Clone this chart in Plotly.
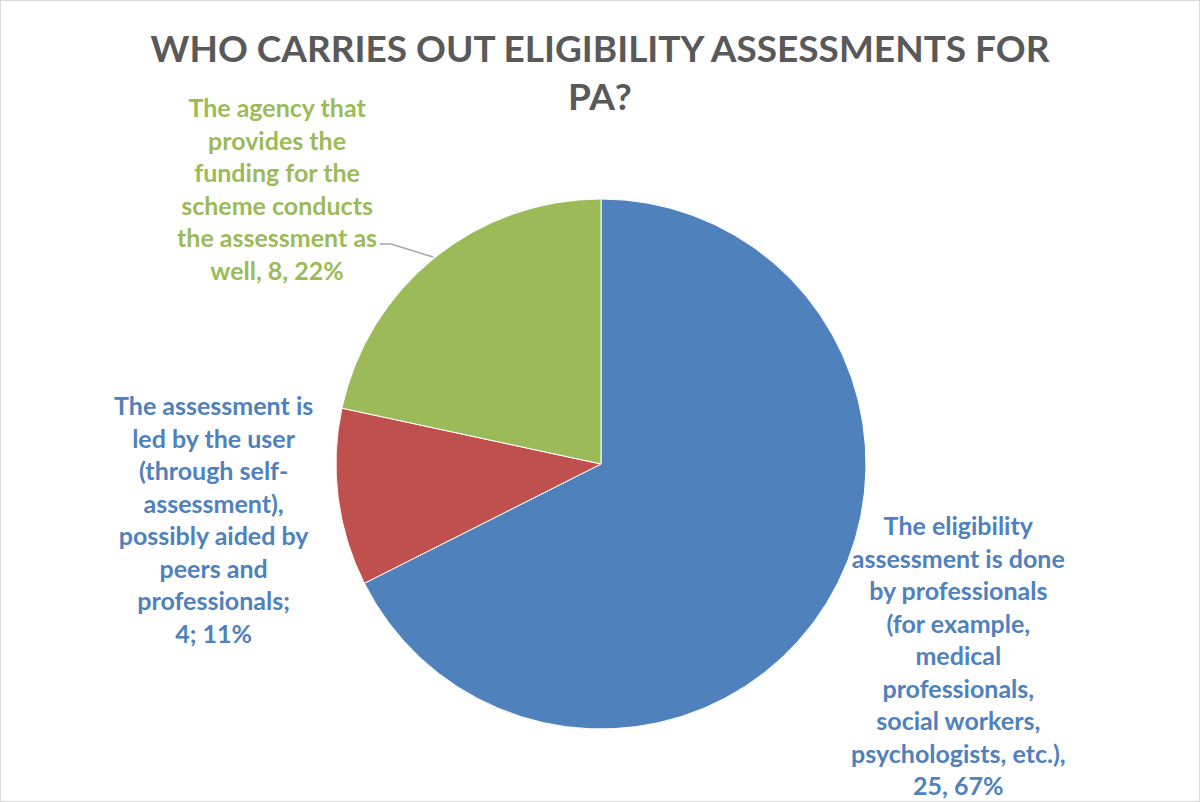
import plotly.graph_objects as go

# data
categories = [
    "The eligibility assessment is done by professionals (for example, medical professionals, social workers, psychologists, etc.)",
    "The assessment is led by the user (through self-assessment), possibly aided by peers and professionals",
    "The agency that provides the funding for the scheme conducts the assessment as well",
]
counts = [25, 4, 8]
percents = [67, 11, 22]
slice_colors = ["#4F81BD", "#C0504D", "#9BBB59"]

# wrapped label lines, as they appear in the chart
label_lines = [
    ["The eligibility", "assessment is done", "by professionals", "(for example,", "medical",
     "professionals,", "social workers,", "psychologists, etc.),"],
    ["The assessment is", "led by the user", "(through self-", "assessment),", "possibly aided by",
     "peers and", "professionals;"],
    ["The agency that", "provides the", "funding for the", "scheme conducts", "the assessment as"],
]
label_tails = ["{n}, {p}%", "{n}; {p}%", "well, {n}, {p}%"]
label_colors = ["#4F81BD", "#4F81BD", "#9BBB59"]

W, H = 1200, 802


def px(x):
    return x / W


def py(y):
    return 1 - y / H


fig = go.Figure()
fig.add_trace(go.Pie(
    labels=categories, values=counts, sort=False, direction="clockwise", rotation=0,
    marker=dict(colors=slice_colors, line=dict(color="white", width=1)),
    textinfo="none", hoverinfo="label+value+percent", showlegend=False,
    domain=dict(x=[px(336), px(866)], y=[py(729), py(199)]),
))

# label positions (pixel centres)
label_pos = [(958, 655), (213, 519), (277, 188)]
for lines, tail, col, n, p, (lx, ly) in zip(label_lines, label_tails, label_colors, counts, percents, label_pos):
    text = "<br>".join(lines + [tail.format(n=n, p=p)])
    fig.add_annotation(x=px(lx), y=py(ly), xref="paper", yref="paper", text=text, showarrow=False,
                       xanchor="center", yanchor="middle", align="center",
                       font=dict(family="Lato", size=25, color=col, weight="bold"))

# leader line for the green label
fig.add_shape(type="path", xref="paper", yref="paper",
              path=f"M {px(380)} {py(244)} L {px(391)} {py(244)} L {px(433)} {py(257)}",
              line=dict(color="#A6A6A6", width=1.5))

# chart border
fig.add_shape(type="rect", xref="paper", yref="paper", x0=0, y0=0, x1=1, y1=1,
              line=dict(color="#D9D9D9", width=2))

fig.update_layout(
    width=W, height=H, margin=dict(l=0, r=0, t=0, b=0),
    paper_bgcolor="white", plot_bgcolor="white",
    title=dict(text="WHO CARRIES OUT ELIGIBILITY ASSESSMENTS FOR<br>PA?", x=0.5, xanchor="center",
               y=py(62), yanchor="middle",
               font=dict(family="Lato", size=37, color="#595959", weight="bold")),
)

fig.write_html("out.html", config={"displayModeBar": False},
               post_script="document.body.style.margin='0';")
